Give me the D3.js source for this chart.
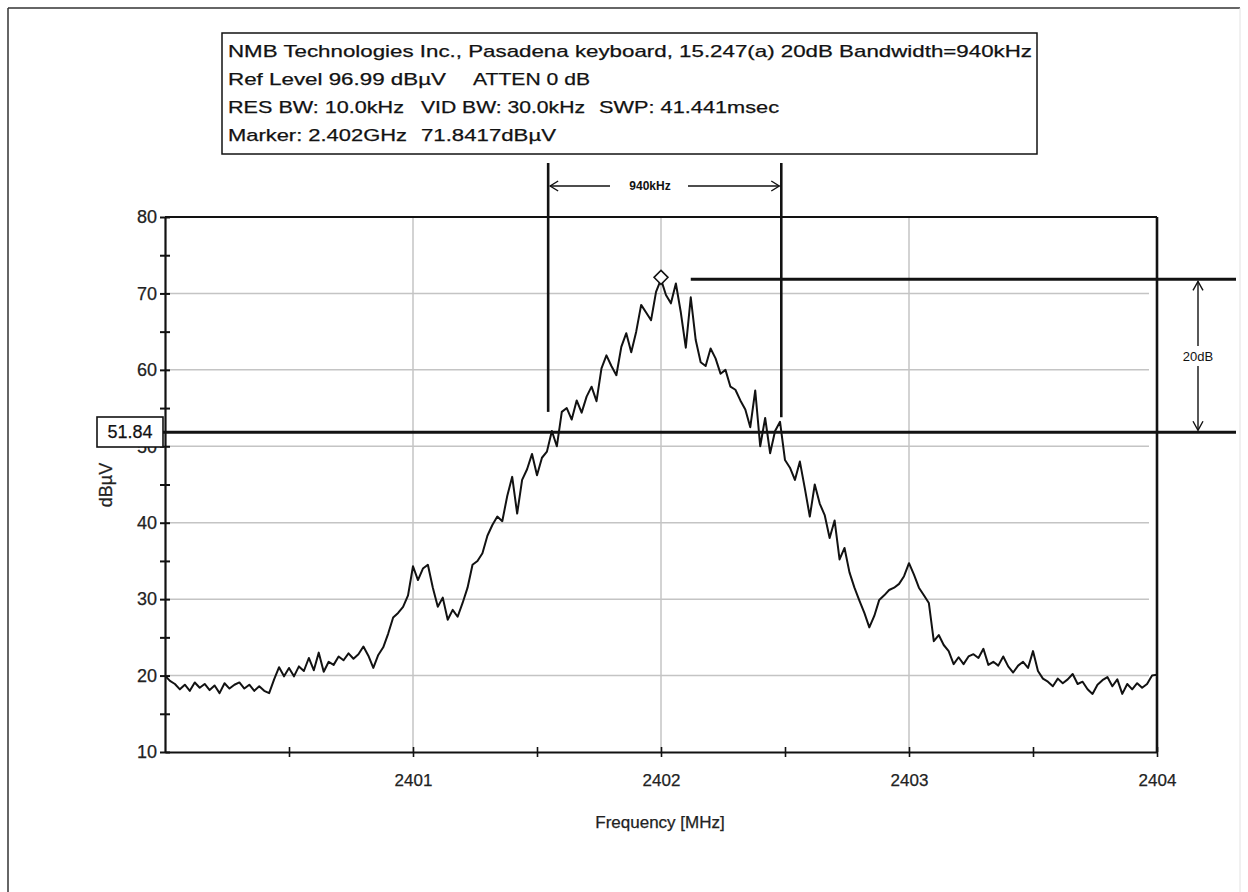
<!DOCTYPE html>
<html>
<head>
<meta charset="utf-8">
<script src="https://cdn.jsdelivr.net/npm/d3@7"></script>
<style>
  html, body { margin: 0; padding: 0; background: #fff; }
  svg { display: block; font-family: "Liberation Sans", Arial, sans-serif; }
</style>
</head>
<body>
<svg id="chart" width="1248" height="892"></svg>
<script>
// Sweep: 2400-2404 MHz, one reading every 20 kHz
const sweepStartMHz = 2400;
const sweepStepMHz = 0.02;
const levelsDbuV = [
  20.0, 19.3, 18.9, 18.2, 18.8, 18.0, 19.1, 18.4, 18.9, 18.1,
  18.7, 17.7, 19.0, 18.3, 18.8, 19.1, 18.3, 18.8, 18.0, 18.6,
  18.0, 17.7, 19.5, 21.1, 19.9, 21.0, 19.9, 21.2, 20.6, 22.3,
  20.7, 23.0, 20.5, 21.8, 21.4, 22.5, 22.0, 22.9, 22.2, 22.8,
  23.8, 22.6, 21.0, 22.7, 23.7, 25.5, 27.6, 28.2, 29.0, 30.5,
  34.3, 32.5, 34.0, 34.5, 31.5, 29.0, 30.2, 27.3, 28.6, 27.7,
  29.5, 31.5, 34.5, 35.0, 36.0, 38.3, 39.7, 40.8, 40.2, 43.5,
  46.0, 41.2, 45.6, 47.0, 49.0, 46.2, 48.5, 49.3, 52.0, 50.0,
  54.5, 55.0, 53.5, 56.0, 54.4, 56.5, 57.8, 55.9, 60.2, 61.9,
  60.5, 59.3, 63.0, 64.8, 62.3, 65.0, 68.5, 67.5, 66.5, 70.2,
  71.84, 69.8, 68.7, 71.3, 67.5, 62.9, 69.5, 63.9, 61.0, 60.5,
  62.8, 61.5, 59.5, 60.0, 57.8, 57.4, 56.0, 54.8, 52.5, 57.3,
  50.0, 53.7, 49.1, 52.0, 53.2, 48.2, 47.2, 45.6, 48.0, 44.5,
  40.8, 45.0, 42.5, 41.0, 38.0, 40.3, 35.2, 36.7, 33.5, 31.5,
  29.8, 28.2, 26.3, 27.8, 29.9, 30.5, 31.2, 31.5, 32.0, 33.0,
  34.7, 33.2, 31.5, 30.5, 29.5, 24.5, 25.3, 24.0, 23.2, 21.5,
  22.4, 21.5, 22.5, 22.8, 22.3, 23.5, 21.4, 21.8, 21.3, 22.5,
  21.2, 20.4, 21.3, 21.8, 21.0, 23.2, 20.6, 19.6, 19.2, 18.6,
  19.6, 19.0, 19.5, 20.2, 18.9, 19.2, 18.2, 17.6, 18.8, 19.4,
  19.8, 18.6, 19.5, 17.6, 18.9, 18.2, 19.0, 18.4, 18.9, 20.0,
  20.1
];

const yTickValues = [10, 15, 20, 25, 30, 35, 40, 45, 50, 55, 60, 65, 70, 75, 80];
const xTickValues = [2400.5, 2401, 2401.5, 2402, 2402.5, 2403, 2403.5, 2404];
const xGridValues = [2401, 2402, 2403];
const yGridValues = [20, 30, 40, 50, 60, 70];

// Marker / bandwidth readout
const markerFreqMHz = 2402;
const markerLevel = 71.84;
const dropDb = 20;
const bwLowMHz = 2401.545;
const bwKHz = 940;

const headerLines = [
  ["NMB Technologies Inc., Pasadena keyboard, 15.247(a) 20dB Bandwidth=940kHz"],
  ["Ref Level 96.99 dBµV", "ATTEN 0 dB"],
  ["RES BW: 10.0kHz", "VID BW: 30.0kHz", "SWP: 41.441msec"],
  ["Marker: 2.402GHz", "71.8417dBµV"]
];
const headerSpans = [
  [[228, 1032]],
  [[228, 446], [473, 590]],
  [[228, 404], [421, 585], [599, 779]],
  [[228, 407], [421, 556]]
];

const svg = d3.select("#chart");
const ink = "#121212";

const x = d3.scaleLinear().domain([2400, 2404]).range([165, 1157]);
const y = d3.scaleLinear().domain([10, 80]).range([752, 217]);

// page frame
svg.append("line").attr("x1", 8).attr("x2", 1240).attr("y1", 8).attr("y2", 8)
  .attr("stroke", "#333").attr("stroke-width", 1.5);
svg.append("line").attr("x1", 8).attr("x2", 8).attr("y1", 8).attr("y2", 892)
  .attr("stroke", "#333").attr("stroke-width", 1.5);
svg.append("line").attr("x1", 1240).attr("x2", 1240).attr("y1", 8).attr("y2", 892)
  .attr("stroke", "#e2e2e2").attr("stroke-width", 1);

// header box
svg.append("rect").attr("x", 222).attr("y", 33).attr("width", 815).attr("height", 121)
  .attr("fill", "#fff").attr("stroke", ink).attr("stroke-width", 1.5);
const lineCenters = [51, 79, 107, 135];
headerLines.forEach((parts, i) => {
  parts.forEach((t, j) => {
    const [a, b] = headerSpans[i][j];
    svg.append("text")
      .attr("x", a).attr("y", lineCenters[i]).attr("dy", "0.36em")
      .attr("font-size", 17).attr("fill", ink)
      .attr("stroke", ink).attr("stroke-width", 0.25)
      .attr("textLength", b - a).attr("lengthAdjust", "spacingAndGlyphs")
      .text(t);
  });
});

// grid
const grid = svg.append("g").attr("stroke", "#c4c4c4").attr("stroke-width", 1.5);
grid.selectAll("line.h").data(yGridValues).join("line").attr("class", "h")
  .attr("x1", x(2400)).attr("x2", x(2404) - 8)
  .attr("y1", d => y(d)).attr("y2", d => y(d));
grid.selectAll("line.v").data(xGridValues).join("line").attr("class", "v")
  .attr("x1", d => x(d)).attr("x2", d => x(d))
  .attr("y1", y(80)).attr("y2", y(10));

// axes
const yAxis = d3.axisLeft(y).tickValues(yTickValues).tickSizeInner(5).tickSizeOuter(0)
  .tickPadding(3).tickFormat(d => d % 10 === 0 ? d : "");
const gy = svg.append("g").attr("transform", `translate(${x(2400)},0)`).call(yAxis);
gy.selectAll(".tick line").attr("x1", 5).attr("x2", -5).attr("stroke-width", 2).attr("stroke", ink);
gy.select(".domain").attr("stroke-width", 2.2).attr("stroke", ink);
gy.selectAll("text").attr("font-size", 18).attr("fill", "#222")
  .attr("stroke", "#222").attr("stroke-width", 0.25)
  .attr("font-family", "Liberation Sans, Arial, sans-serif");

const xAxis = d3.axisBottom(x).tickValues(xTickValues).tickSizeInner(5).tickSizeOuter(0)
  .tickPadding(17).tickFormat(d => Number.isInteger(d) ? d : "");
const gx = svg.append("g").attr("transform", `translate(0,${y(10)})`).call(xAxis);
gx.selectAll(".tick line").attr("y1", -5).attr("y2", 5).attr("stroke-width", 1.6).attr("stroke", ink);
gx.select(".domain").attr("stroke-width", 2.2).attr("stroke", ink);
gx.selectAll("text").attr("font-size", 17).attr("fill", "#222")
  .attr("stroke", "#222").attr("stroke-width", 0.25)
  .attr("font-family", "Liberation Sans, Arial, sans-serif");

// frame top and right
svg.append("line").attr("x1", x(2400)).attr("x2", x(2404)).attr("y1", y(80)).attr("y2", y(80))
  .attr("stroke", ink).attr("stroke-width", 2);
svg.append("line").attr("x1", x(2404)).attr("x2", x(2404)).attr("y1", y(80)).attr("y2", y(10))
  .attr("stroke", ink).attr("stroke-width", 2.6);

// axis titles
svg.append("text").attr("x", 660).attr("y", 828).attr("text-anchor", "middle")
  .attr("font-size", 17).attr("fill", "#222").attr("stroke", "#222").attr("stroke-width", 0.25)
  .text("Frequency [MHz]");
svg.append("text").attr("transform", "translate(112,485) rotate(-90)")
  .attr("text-anchor", "middle").attr("font-size", 18).attr("fill", "#222")
  .attr("stroke", "#222").attr("stroke-width", 0.25).text("dBµV");

// spectrum trace
const trace = levelsDbuV.map((v, i) => [sweepStartMHz + i * sweepStepMHz, v]);
svg.append("path").datum(trace)
  .attr("fill", "none").attr("stroke", ink).attr("stroke-width", 2)
  .attr("stroke-linejoin", "round")
  .attr("d", d3.line().x(d => x(d[0])).y(d => y(d[1])));

// 20 dB down reference and peak reference lines
const refLevel = markerLevel - dropDb;
svg.append("line").attr("x1", 163).attr("x2", 1236).attr("y1", y(refLevel)).attr("y2", y(refLevel))
  .attr("stroke", ink).attr("stroke-width", 3);
svg.append("line").attr("x1", x(2402.12)).attr("x2", 1236).attr("y1", y(markerLevel)).attr("y2", y(markerLevel))
  .attr("stroke", ink).attr("stroke-width", 3);

// bandwidth edges
const bwHighMHz = bwLowMHz + bwKHz / 1000;
[[bwLowMHz, 54.5], [bwHighMHz, 53.8]].forEach(([f, lo]) => {
  svg.append("line").attr("x1", x(f)).attr("x2", x(f)).attr("y1", 163).attr("y2", y(lo))
    .attr("stroke", ink).attr("stroke-width", 2.6);
});

// double-headed dimension arrow helpers
function hArrow(x1, x2, yy) {
  const g = svg.append("g").attr("stroke", ink).attr("stroke-width", 1.4).attr("fill", "none");
  g.append("line").attr("x1", x1).attr("x2", x2).attr("y1", yy).attr("y2", yy);
  g.append("path").attr("d", `M${x1 + 8},${yy - 5}L${x1},${yy}L${x1 + 8},${yy + 5}`);
  g.append("path").attr("d", `M${x2 - 8},${yy - 5}L${x2},${yy}L${x2 - 8},${yy + 5}`);
}
function vArrow(xx, y1, y2) {
  const g = svg.append("g").attr("stroke", ink).attr("stroke-width", 1.4).attr("fill", "none");
  g.append("line").attr("x1", xx).attr("x2", xx).attr("y1", y1).attr("y2", y2);
  g.append("path").attr("d", `M${xx - 5},${y1 + 9}L${xx},${y1}L${xx + 5},${y1 + 9}`);
  g.append("path").attr("d", `M${xx - 5},${y2 - 9}L${xx},${y2}L${xx + 5},${y2 - 9}`);
}

// bandwidth dimension
hArrow(x(bwLowMHz) + 2, x(bwHighMHz) - 2, 186);
const bwLabel = `${bwKHz}kHz`;
svg.append("rect").attr("x", 610).attr("y", 178).attr("width", 78).attr("height", 16).attr("fill", "#fff");
svg.append("text").attr("x", 650).attr("y", 186).attr("dy", "0.35em").attr("text-anchor", "middle")
  .attr("font-size", 12).attr("font-weight", "bold").attr("fill", ink).text(bwLabel);

// 20 dB dimension
vArrow(1198, y(markerLevel) + 2, y(refLevel) - 2);
svg.append("rect").attr("x", 1174).attr("y", 346).attr("width", 48).attr("height", 20).attr("fill", "#fff");
svg.append("text").attr("x", 1198).attr("y", 356).attr("dy", "0.35em").attr("text-anchor", "middle")
  .attr("font-size", 13).attr("fill", ink).text(`${dropDb}dB`);

// peak marker
const mx = x(markerFreqMHz), my = y(markerLevel) - 2;
svg.append("path").attr("d", `M${mx},${my - 7}L${mx + 7},${my}L${mx},${my + 7}L${mx - 7},${my}Z`)
  .attr("fill", "#fff").attr("stroke", ink).attr("stroke-width", 1.5);

// reference level readout
svg.append("rect").attr("x", 97).attr("y", 417).attr("width", 66).attr("height", 30)
  .attr("fill", "#fff").attr("stroke", ink).attr("stroke-width", 1.6);
svg.append("text").attr("x", 130).attr("y", 432).attr("dy", "0.36em").attr("text-anchor", "middle")
  .attr("font-size", 18).attr("fill", ink).attr("stroke", ink).attr("stroke-width", 0.25)
  .text(refLevel.toFixed(2));
</script>
</body>
</html>
